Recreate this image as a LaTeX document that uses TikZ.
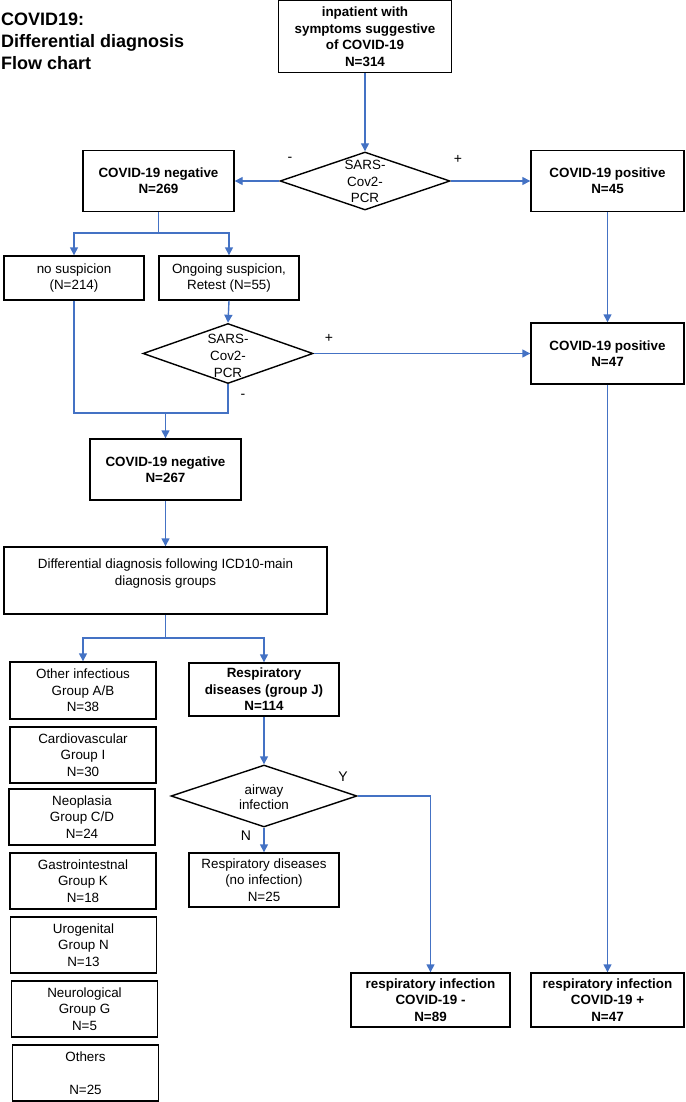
\documentclass[tikz,border=0pt]{standalone}
\usepackage{fontspec}
\setmainfont{Liberation Sans}
\usetikzlibrary{shapes.geometric,arrows.meta}
\definecolor{arrowblue}{HTML}{4472C4}
\begin{document}
\begin{tikzpicture}[x=1pt,y=-1pt,
  box/.style={draw=black,line width=1.4pt,rectangle,inner sep=0pt,align=center,font=\fontsize{13.4}{16.4}\selectfont},
  bbox/.style={box,font=\fontsize{13.4}{16.4}\selectfont\bfseries},
  dia/.style={draw=black,line width=1.4pt,diamond,inner sep=0pt},
  dtext/.style={align=center,font=\fontsize{13.4}{16.8}\selectfont,inner sep=0pt},
  conn/.style={draw=arrowblue,line width=1.4pt},
  arr/.style={conn,-{Triangle[length=8pt,width=8pt]}},
  lbl/.style={font=\fontsize{14}{16}\selectfont,inner sep=0pt}
]
\useasboundingbox (0,0) rectangle (685,1102);
\node (title) [align=left, font=\fontsize{18}{22}\selectfont\bfseries, inner sep=0pt, anchor=west] at (1,41) {COVID19:\\Differential diagnosis\\Flow chart};

\node[bbox, minimum width=173pt, minimum height=72pt] (top) at (365,36.7) {inpatient with\\symptoms suggestive\\of COVID-19\\N=314};
\node[dia, minimum width=170pt, minimum height=58pt] (d1) at (365,181) {};
\node[dtext] (d1t) at (365,181.5) {SARS-\\Cov2-\\PCR};
\node[bbox, minimum width=151pt, minimum height=61pt] (neg1) at (158.5,181) {COVID-19 negative\\N=269};
\node[bbox, minimum width=153pt, minimum height=61pt] (pos1) at (607.5,181) {COVID-19 positive\\N=45};
\node[box, minimum width=140pt, minimum height=44pt] (nosusp) at (74,278) {no suspicion\\(N=214)};
\node[box, minimum width=140pt, minimum height=44pt] (ongo) at (229,278) {Ongoing suspicion,\\Retest (N=55)};
\node[dia, minimum width=170pt, minimum height=60pt] (d2) at (228,353.5) {};
\node[dtext] (d2t) at (228,356) {SARS-\\Cov2-\\PCR};
\node[bbox, minimum width=153pt, minimum height=61pt] (pos2) at (607.5,353.5) {COVID-19 positive\\N=47};
\node[bbox, minimum width=151pt, minimum height=61pt] (neg2) at (165.5,469.5) {COVID-19 negative\\N=267};
\node[box, minimum width=323pt, minimum height=67pt] (diff) at (165.5,580.5) {Differential diagnosis following ICD10-main\\diagnosis groups\\~};

\node[box, minimum width=146pt, minimum height=57pt] (g1) at (83,690.5) {Other infectious\\Group A/B\\N=38};
\node[box, minimum width=146pt, minimum height=56pt] (g2) at (83,755) {Cardiovascular\\Group I\\N=30};
\node[box, minimum width=146pt, minimum height=56pt] (g3) at (82,817) {Neoplasia\\Group C/D\\N=24};
\node[box, minimum width=146pt, minimum height=56pt] (g4) at (83,881) {Gastrointestnal\\Group K\\N=18};
\node[box, minimum width=146pt, minimum height=56pt] (g5) at (83.5,945) {Urogenital\\Group N\\N=13};
\node[box, minimum width=146pt, minimum height=56pt] (g6) at (84.5,1009) {Neurological\\Group G\\N=5};
\node[box, minimum width=146pt, minimum height=56pt] (g7) at (85.5,1073) {Others\\~\\N=25};

\node[bbox, minimum width=150pt, minimum height=53pt] (resp) at (264,689.5) {Respiratory\\diseases (group J)\\N=114};
\node[dia, minimum width=186pt, minimum height=62pt] (air) at (264,796) {};
\node[dtext, font=\fontsize{13.4}{15.5}\selectfont] (airt) at (264,797) {airway\\infection};
\node[box, minimum width=150pt, minimum height=54pt] (resn) at (264,880) {Respiratory diseases\\(no infection)\\N=25};
\node[bbox, minimum width=159pt, minimum height=54pt] (rin) at (430.5,1000) {respiratory infection\\COVID-19 -\\N=89};
\node[bbox, minimum width=153pt, minimum height=54pt] (rip) at (607.5,1000) {respiratory infection\\COVID-19 +\\N=47};

\node[lbl] (lm1) at (290,159) {-};
\node[lbl] (lp1) at (458,159) {+};
\node[lbl] (lp2) at (329,338) {+};
\node[lbl] (lm2) at (243,396) {-};
\node[lbl] (ly) at (343,777) {Y};
\node[lbl] (ln) at (246,836) {N};

\draw[arr] (top.south) -- (d1.north);
\draw[arr] (d1.west) -- (neg1.east);
\draw[arr] (d1.east) -- (pos1.west);
\coordinate (s1) at (158.5,233);
\draw[conn] (neg1.south) -- (s1);
\draw[arr] (s1) -| (nosusp.north);
\draw[arr] (s1) -| (ongo.north);
\draw[arr] (ongo.south) -- (d2.north);
\draw[arr] (d2.east) -- (pos2.west);
\draw[arr] (pos1.south) -- (pos2.north);
\coordinate (mg) at (165.5,413);
\draw[conn] (nosusp.south) |- (mg) -| (d2.south);
\draw[arr] (mg) -- (neg2.north);
\draw[arr] (neg2.south) -- (diff.north);
\coordinate (s2) at (165.5,638);
\draw[conn] (diff.south) -- (s2);
\draw[arr] (s2) -| (g1.north);
\draw[arr] (s2) -| (resp.north);
\draw[arr] (resp.south) -- (air.north);
\draw[arr] (air.south) -- (resn.north);
\draw[arr] (air.east) -| (rin.north);
\draw[arr] (pos2.south) -- (rip.north);
\end{tikzpicture}
\end{document}
